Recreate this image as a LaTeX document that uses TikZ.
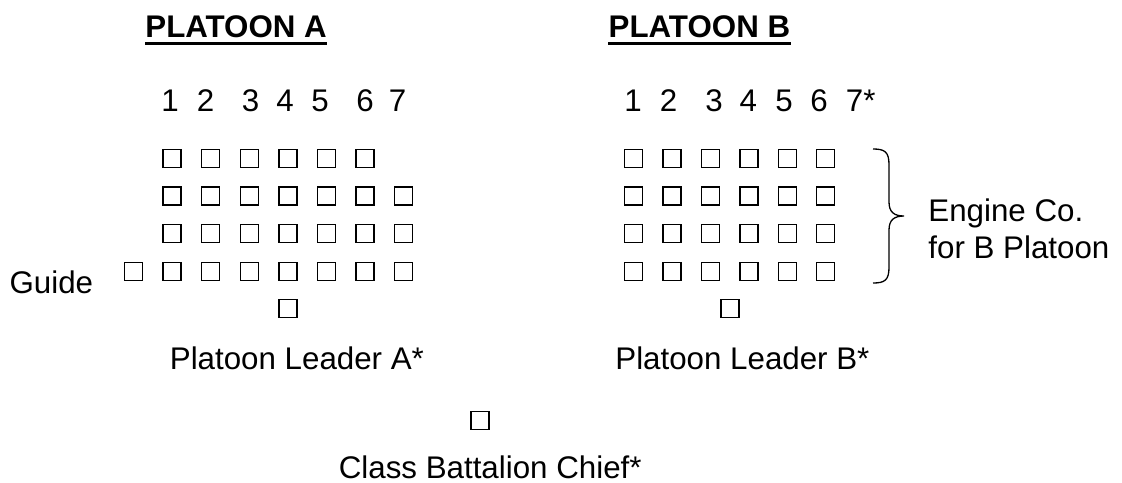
\documentclass[tikz,border=0pt]{standalone}
\usepackage{fontspec}
\setmainfont{Liberation Sans}
\usetikzlibrary{calc}
\begin{document}
\begin{tikzpicture}[x=0.5pt,y=-0.5pt,
  sq/.style={draw,line width=0.65pt,minimum size=9pt,inner sep=0pt},
  txt/.style={inner sep=0pt,font=\fontsize{15.65pt}{18pt}\selectfont},
  titletxt/.style={inner sep=0pt,font=\fontsize{15.65pt}{18pt}\selectfont\bfseries},
  uline/.style={line width=1.65pt},
  bracepath/.style={line width=0.65pt}]
\useasboundingbox (0,0) rectangle (1122,482);

% titles
\node[titletxt,anchor=base west] (pa) at (145,37) {PLATOON A};
\draw[uline] ($(pa.base west)+(0,6.3)$) -- ($(pa.base east)+(0,6.3)$);
\node[titletxt,anchor=base west] (pb) at (608.3,37) {PLATOON B};
\draw[uline] ($(pb.base west)+(0,6.3)$) -- ($(pb.base east)+(0,6.3)$);

% column numbers
\foreach \d/\x in {1/170,2/205.7,3/250.5,4/285,5/320,6/365,7/397.5}
  \node[txt,anchor=base] (na\d) at (\x,111.7) {\d};
\foreach \d/\x in {1/633,2/668.5,3/714,4/748.3,5/784,6/819}
  \node[txt,anchor=base] (nb\d) at (\x,111.7) {\d};
\node[txt,anchor=base west] (nb7) at (845.5,111.7) {7*};

% platoon A
\foreach \c in {1,...,6} \node[sq] (a1-\c) at (133.5+38.6*\c,158.5) {};
\foreach \c in {1,...,7} \node[sq] (a2-\c) at (133.5+38.6*\c,196.1) {};
\foreach \c in {1,...,7} \node[sq] (a3-\c) at (133.5+38.6*\c,233.7) {};
\foreach \c in {0,...,7} \node[sq] (a4-\c) at (133.5+38.6*\c,271.3) {};
\node[sq] (leadA) at (288,308.5) {};

% platoon B
\foreach \r/\y in {1/158.5,2/196.1,3/233.7,4/271.3}
  \foreach \c in {0,...,5} \node[sq] (b\r-\c) at (633.7+38.4*\c,\y) {};
\node[sq] (leadB) at (730,308.5) {};

% chief
\node[sq] (chief) at (480,420.7) {};

% brace
\draw[bracepath] (873,149) .. controls (885,149) and (889,152) .. (889,165)
  -- (889,202) .. controls (889,212) and (894,216) .. (904,216)
  .. controls (894,216) and (889,220) .. (889,230)
  -- (889,267) .. controls (889,280) and (885,283) .. (873,283);

% labels
\node[txt,anchor=base west] (eng1) at (928,221.7) {Engine Co.};
\node[txt,anchor=base west] (eng2) at (928,258.3) {for B Platoon};
\node[txt,anchor=base east] (guide) at (93.5,293) {Guide};
\node[txt,anchor=base west] (plA) at (169.5,369) {Platoon Leader A*};
\node[txt,anchor=base west] (plB) at (615,369) {Platoon Leader B*};
\node[txt,anchor=base east] (bc) at (642,478) {Class Battalion Chief*};
\end{tikzpicture}
\end{document}
